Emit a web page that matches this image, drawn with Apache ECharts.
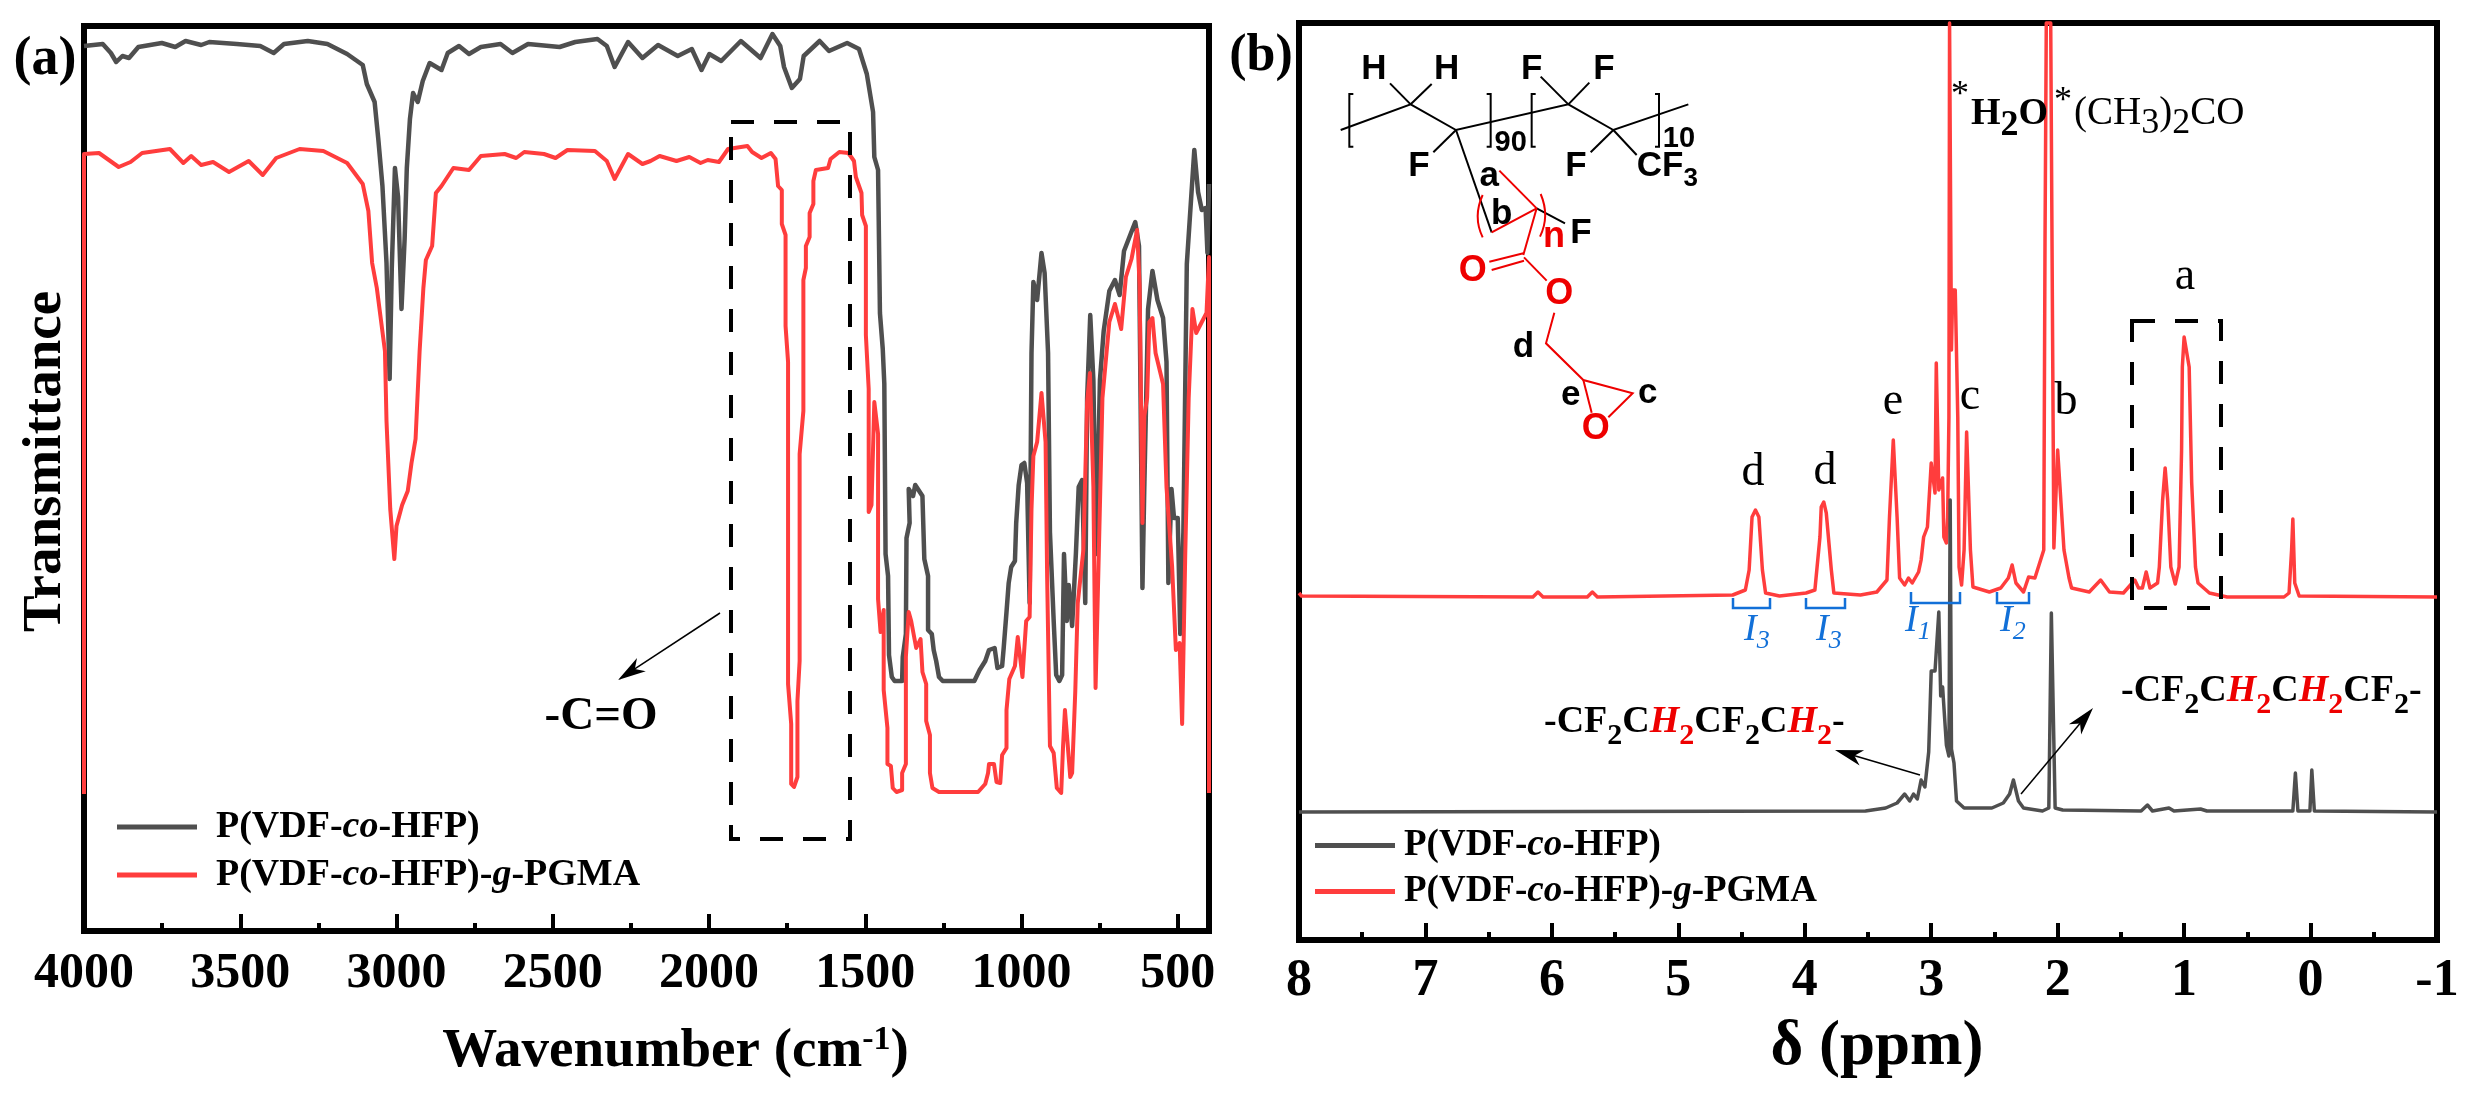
<!DOCTYPE html>
<html><head><meta charset="utf-8">
<style>html,body{margin:0;padding:0;background:#fff}#c{width:2470px;height:1095px}</style>
<script src="https://cdn.jsdelivr.net/npm/echarts@6/dist/echarts.min.js"></script>
</head><body><div id="c"></div>
<script>
const serif='"Liberation Serif"', sans='"Liberation Sans"';
const nameBase='P(VDF-co-HFP)', nameGraft='P(VDF-co-HFP)-g-PGMA';
const ftirTicks=[4000,3500,3000,2500,2000,1500,1000,500];
const ftirMinor=[3750,3250,2750,2250,1750,1250,750];
const nmrTicks=[8,7,6,5,4,3,2,1,0,-1];
const nmrMinor=[7.5,6.5,5.5,4.5,3.5,2.5,1.5,0.5,-0.5];

const ftirBase=[[4000,885],[3940,887],[3914,878],[3897,869],[3877,875],[3856,873],[3826,884],[3751,888],[3708,884],[3675,890],[3625,886],[3599,889],[3511,887],[3436,885],[3393,878],[3360,887],[3284,890],[3221,887],[3158,877],[3108,866],[3095,847],[3070,829],[3058,791],[3045,745],[3032,668],[3022,552],[3015,664],[3005,763],[2995,734],[2984,622],[2974,692],[2967,763],[2957,812],[2947,838],[2932,829],[2916,850],[2894,868],[2856,861],[2836,878],[2800,885],[2768,877],[2730,884],[2667,887],[2629,878],[2579,887],[2478,884],[2428,889],[2357,892],[2327,885],[2302,864],[2259,889],[2213,873],[2163,886],[2100,875],[2055,882],[2024,861],[1999,877],[1961,870],[1898,890],[1835,873],[1797,897],[1772,885],[1760,864],[1735,843],[1709,852],[1697,875],[1646,890],[1616,880],[1558,888],[1520,882],[1495,857],[1475,819],[1471,774],[1459,761],[1453,618],[1444,582],[1439,547],[1435,377],[1427,355],[1424,276],[1415,254],[1406,250],[1382,250],[1380,274],[1370,297],[1368,393],[1358,408],[1361,442],[1347,435],[1340,446],[1317,435],[1311,372],[1299,355],[1299,301],[1287,297],[1281,281],[1273,270],[1264,254],[1252,250],[1151,250],[1134,261],[1116,270],[1104,281],[1086,283],[1077,263],[1062,265],[1057,283],[1048,319],[1041,348],[1033,364],[1021,370],[1017,408],[1009,446],[1000,466],[991,468],[982,448],[974,328],[968,578],[962,649],[950,631],[936,678],[926,658],[915,578],[909,399],[897,310],[889,256],[879,250],[870,256],[864,377],[855,310],[849,346],[838,305],[826,377],[817,444],[806,451],[796,328],[790,533],[780,616],[770,551],[761,377],[749,551],[737,600],[719,640],[701,651],[686,636],[672,680],[636,709],[624,685],[619,533],[613,343],[607,444],[595,622],[581,660],[565,631],[547,613],[536,569],[530,348],[520,442],[512,413],[500,413],[492,297],[482,399],[471,667],[447,781],[435,739],[423,721],[411,723],[405,678],[400,747]];

const ftirGraft=[[4000,137],[4000,777],[3952,778],[3889,764],[3851,769],[3814,778],[3725,782],[3682,768],[3657,775],[3625,766],[3587,769],[3536,759],[3473,770],[3428,756],[3385,773],[3310,782],[3234,780],[3158,768],[3108,747],[3090,720],[3078,668],[3063,643],[3037,580],[3032,510],[3020,422],[3007,372],[3000,405],[2982,426],[2964,440],[2952,468],[2939,492],[2926,580],[2914,643],[2906,671],[2886,685],[2874,738],[2856,745],[2818,763],[2768,761],[2730,775],[2654,777],[2617,773],[2591,779],[2528,777],[2491,773],[2453,781],[2365,780],[2327,770],[2302,752],[2259,777],[2213,767],[2187,770],[2158,775],[2104,770],[2063,774],[2027,768],[2004,771],[1968,769],[1939,782],[1877,785],[1862,779],[1832,773],[1802,778],[1787,772],[1779,745],[1767,741],[1767,707],[1755,696],[1755,605],[1747,569],[1747,247],[1737,207],[1737,147],[1728,144],[1717,154],[1717,230],[1710,270],[1710,477],[1698,520],[1698,651],[1690,663],[1690,685],[1678,694],[1678,718],[1666,727],[1666,750],[1658,761],[1619,763],[1611,772],[1583,779],[1554,778],[1536,770],[1530,754],[1512,738],[1510,716],[1498,705],[1498,596],[1489,542],[1489,419],[1480,426],[1471,529],[1459,497],[1459,332],[1451,299],[1441,321],[1441,241],[1429,203],[1429,167],[1418,165],[1412,143],[1400,139],[1382,141],[1382,158],[1370,167],[1370,274],[1361,319],[1353,310],[1337,283],[1323,292],[1317,259],[1305,247],[1305,210],[1293,196],[1293,158],[1285,143],[1264,139],[1139,139],[1116,147],[1107,158],[1104,167],[1088,167],[1080,149],[1068,148],[1062,176],[1048,183],[1048,221],[1039,252],[1021,265],[1012,294],[997,254],[985,310],[974,314],[968,422],[962,475],[950,489],[936,538],[923,489],[918,355],[909,185],[897,178],[887,143],[873,138],[867,185],[861,221],[844,154],[838,158],[828,239],[820,328],[802,381],[790,529],[781,558],[770,444],[763,243],[752,386],[741,533],[719,609],[701,627],[681,602],[666,654],[648,672],[630,701],[622,645],[613,408],[607,515],[598,533],[591,609],[581,613],[571,578],[547,547],[536,444],[518,364],[506,281],[494,288],[486,207],[476,377],[465,533],[453,622],[441,598],[423,609],[408,618],[400,674],[400,138]];

const nmrBase=[[8,128],[3.52,129],[3.36,132],[3.27,137],[3.21,146],[3.17,139],[3.14,146],[3.11,141],[3.08,160],[3.05,153],[3.02,188],[3.0,269],[2.97,269],[2.94,328],[2.925,244],[2.91,253],[2.88,195],[2.86,184],[2.85,440],[2.84,191],[2.82,177],[2.80,139],[2.74,132],[2.52,132],[2.43,137],[2.38,146],[2.35,160],[2.31,139],[2.27,132],[2.12,129],[2.07,132],[2.05,327],[2.02,132],[1.96,130],[1.34,129],[1.29,135],[1.25,129],[1.12,132],[1.08,129],[0.87,131],[0.82,129],[0.14,129],[0.12,167],[0.10,129],[0.005,129],[-0.01,170],[-0.03,129],[-1,128]];

const nmrGraft=[[8,347],[7.98,344],[6.15,343],[6.11,348],[6.07,343],[5.72,343],[5.68,348],[5.64,343],[4.57,345],[4.47,350],[4.44,370],[4.417,423],[4.39,430],[4.363,423],[4.335,370],[4.31,347],[4.20,344],[3.99,347],[3.92,350],[3.88,403],[3.87,433],[3.85,438],[3.83,427],[3.79,370],[3.77,347],[3.56,345],[3.43,348],[3.35,360],[3.33,423],[3.30,500],[3.27,423],[3.25,362],[3.21,355],[3.18,362],[3.15,357],[3.10,368],[3.08,380],[3.06,403],[3.03,413],[3.00,477],[2.97,447],[2.96,577],[2.94,450],[2.91,462],[2.90,403],[2.88,397],[2.87,423],[2.86,523],[2.855,917],[2.84,590],[2.83,650],[2.81,650],[2.79,523],[2.78,373],[2.76,355],[2.74,390],[2.72,508],[2.69,390],[2.67,353],[2.54,348],[2.45,352],[2.39,362],[2.36,375],[2.33,357],[2.27,348],[2.23,363],[2.18,362],[2.11,390],[2.10,700],[2.09,917],[2.055,917],[2.04,600],[2.03,392],[2.00,490],[1.95,390],[1.91,362],[1.89,352],[1.75,348],[1.66,360],[1.59,348],[1.48,347],[1.39,360],[1.36,352],[1.33,352],[1.30,368],[1.27,352],[1.21,357],[1.196,373],[1.17,440],[1.15,472],[1.13,440],[1.105,373],[1.07,356],[1.04,373],[1.02,490],[1.014,573],[1.00,603],[0.96,573],[0.94,457],[0.91,373],[0.89,357],[0.80,347],[0.66,343],[0.21,343],[0.17,347],[0.15,390],[0.14,421],[0.125,357],[0.09,344],[-1,343]];

const G='#4f4f4f', R='#ff3d3d', B='#1270d8', K='#000', RC='#ee0000';
const g=[];
const mc=document.createElement('canvas').getContext('2d');
function txt(x,y,t,size,o={}){
  const font=`${o.i?'italic ':''}${o.b===false?'':'bold '}${size}px ${o.f||serif}`;
  g.push({type:'text',x,y,silent:true,z:50,style:{text:t,fill:o.c||K,font,textAlign:o.a||'center',textVerticalAlign:'middle',verticalAlign:'middle'}});
}
function chain(x,y,toks,size,o={}){
  toks.forEach(k=>{
    const sub=k.s, sz=sub?(o.ss||size*0.75):size;
    const font=`${k.i||o.i?'italic ':''}${o.b===false?'':'bold '}${sz}px ${o.f||serif}`;
    mc.font=font;
    txt(x,y+(sub?(o.dy||size*0.36):0),k.t,sz,{a:'left',i:k.i||o.i,c:k.c||o.c,b:o.b,f:o.f});
    x+=mc.measureText(k.t).width;
  });
}
function ln(pts,c,w,dash){
  g.push({type:'polyline',silent:true,z:40,shape:{points:pts},style:{stroke:c,lineWidth:w,fill:null,lineDash:dash||null}});
}
function arrow(x0,y0,x1,y1,w=1.5){
  const dx=x1-x0,dy=y1-y0,l=Math.hypot(dx,dy),ux=dx/l,uy=dy/l,h=28,hw=8;
  ln([[x0,y0],[x1-ux*h*0.7,y1-uy*h*0.7]],K,w);
  g.push({type:'polygon',silent:true,z:41,shape:{points:[[x1,y1],[x1-ux*h-uy*hw,y1-uy*h+ux*hw],[x1-ux*h*0.72,y1-uy*h*0.72],[x1-ux*h+uy*hw,y1-uy*h-ux*hw]]},style:{fill:K}});
}
function box(x,y,w,h){
  g.push({type:'rect',silent:true,z:40,shape:{x,y,width:w,height:h},style:{stroke:K,lineWidth:4,fill:null,lineDash:[23,20]}});
}
function bracket(x0,x1,y0,y1){ ln([[x0,y0],[x0,y1],[x1,y1],[x1,y0]],B,2.5); }

// panel tags and annotations
txt(45,60,'(a)',54); txt(1261,57,'(b)',52);
box(731,122,119,717); box(2132,321,89,287);
arrow(720,613,618,680); txt(601,717,'-C=O',47);
[['a',2185,277],['b',2066,402],['c',1970,397],['e',1893,402],['d',1753,473],['d',1825,472]].forEach(p=>txt(p[1],p[2],p[0],46,{b:false}));
txt(1960,96,'*',36,{b:false});
chain(1971,114,[{t:'H'},{t:'2',s:1},{t:'O'}],38,{ss:36,dy:12});
txt(2063,102,'*',36,{b:false});
chain(2074,114,[{t:'(CH'},{t:'3',s:1},{t:')'},{t:'2',s:1},{t:'CO'}],39,{b:false,ss:36,dy:10});
bracket(1733,1770,598,608); bracket(1806,1845,598,608); bracket(1911,1960,592,603); bracket(1997,2029,592,603);
[[1744,630,'3'],[1816,630,'3'],[1905,621,'1'],[2000,621,'2']].forEach(p=>chain(p[0],p[1],[{t:'I'},{t:p[2],s:1}],38,{i:true,b:false,c:B,ss:26,dy:11}));
const CH=[{t:'C'},{t:'H',i:1,c:RC},{t:'2',s:1,c:RC}], CF=[{t:'C'},{t:'F'},{t:'2',s:1}];
chain(1544,722,[{t:'-'},...CF,...CH,...CF,...CH,{t:'-'}],38,{ss:30,dy:14});
chain(2121,691,[{t:'-'},...CF,...CH,...CH,...CF,{t:'-'}],38,{ss:30,dy:14});
arrow(1920,775,1835,750); arrow(2021,794,2093,708);

// chemical structure
const S=(x,y)=>[1300+x/3,20+y/3];
const blk=[[[122,330],[332,253],[468,330],[805,253],[940,330],[1165,253]],[[332,253],[270,190]],[[332,253],[395,192]],[[805,253],[722,170]],[[805,253],[868,188]],[[468,330],[400,397]],[[940,330],[872,397]],[[940,330],[1010,405]],[[468,330],[575,637]],[[710,565],[795,610]],
 [[160,222],[148,222],[148,380],[160,380]],[[560,222],[572,222],[572,380],[560,380]],[[707,222],[695,222],[695,380],[707,380]],[[1065,222],[1077,222],[1077,380],[1065,380]]];
blk.forEach(l=>ln(l.map(p=>S(p[0],p[1])),K,2));
const red=[[[575,637],[710,565]],[[598,452],[710,565]],[[710,565],[670,705]],[[670,700],[568,725]],[[672,722],[575,750]],[[672,712],[740,782]],[[763,878],[738,970],[850,1080],[998,1120],[925,1192]],[[850,1080],[875,1178]]];
red.forEach(l=>ln(l.map(p=>S(p[0],p[1])),RC,2));
[[548,525,518,590,548,652],[722,522,750,588,720,650]].forEach(a=>{const p1=S(a[0],a[1]),c=S(a[2],a[3]),p2=S(a[4],a[5]);
 g.push({type:'bezierCurve',silent:true,z:40,shape:{x1:p1[0],y1:p1[1],cpx1:c[0],cpy1:c[1],x2:p2[0],y2:p2[1]},style:{stroke:RC,lineWidth:2,fill:null}});});
[['H',222,148],['H',440,148],['F',695,148],['F',912,148],['F',357,440],['F',828,440],['CF',1080,440],['a',568,468],['b',605,582],['F',843,640],['d',670,983],['e',812,1125],['c',1043,1120]].forEach(p=>{const q=S(p[1],p[2]);txt(q[0],q[1],p[0],35,{f:sans});});
[['n',762,652],['O',518,752],['O',778,822],['O',887,1228]].forEach(p=>{const q=S(p[1],p[2]);txt(q[0],q[1],p[0],36,{f:sans,c:RC});});
[['90',632,368],['10',1137,358],['3',1172,475]].forEach(p=>{const q=S(p[1],p[2]);txt(q[0],q[1],p[0],p[0]==='3'?26:29,{f:sans});});

const labelStyle={fontFamily:serif,fontWeight:'bold',color:K};
const fmtName=n=>n.replace('-co-','-{i|co}-').replace('-g-','-{i|g}-');
function mkLegend(left,top,gap,size,pad){
  return {left,top,orient:'vertical',padding:0,icon:'rect',itemWidth:80,itemHeight:5,itemGap:gap,selectedMode:false,
    data:[nameBase,nameGraft],formatter:fmtName,
    textStyle:{fontFamily:serif,fontWeight:'bold',fontSize:size,color:K,padding:[0,0,0,pad],
      rich:{i:{fontFamily:serif,fontWeight:'bold',fontStyle:'italic',fontSize:size,color:K}}}};
}
function mkX(grid,min,max,values,major,labelSize,margin,name,gap,pad,rich){
  return [{type:'value',gridIndex:grid,inverse:true,min,max,position:'bottom',
      axisLine:{show:false},splitLine:{show:false},
      axisTick:{show:true,inside:true,length:17,lineStyle:{color:K,width:4},customValues:values},
      axisLabel:{show:true,margin,fontSize:labelSize,hideOverlap:false,showMinLabel:true,showMaxLabel:true,...labelStyle,customValues:values,formatter:v=>String(v)},
      name,nameLocation:'middle',nameGap:gap,nameMoveOverlap:false,
      nameTextStyle:{...labelStyle,padding:[0,0,0,pad],rich}},
    {type:'value',gridIndex:grid,inverse:true,min,max,position:'bottom',
      axisLine:{show:false},splitLine:{show:false},axisLabel:{show:false},
      axisTick:{show:true,inside:true,length:8,lineStyle:{color:K,width:4},customValues:major}}];
}
const line=(name,data,x,y,color,w,z)=>({name,type:'line',data,xAxisIndex:x,yAxisIndex:y,showSymbol:false,symbol:'none',smooth:false,clip:false,sampling:null,animation:false,silent:true,z,
  color,itemStyle:{color},lineStyle:{color,width:w,join:'round',cap:'butt'}});

const chart=echarts.init(document.getElementById('c'),null,{renderer:'canvas'});
chart.setOption({
  animation:false,backgroundColor:'#fff',
  grid:[{left:84,top:26,width:1125,height:905,show:true,borderColor:K,borderWidth:6,backgroundColor:'transparent',outerBoundsMode:'none'},
        {left:1299,top:23,width:1138,height:917,show:true,borderColor:K,borderWidth:6,backgroundColor:'transparent',outerBoundsMode:'none'}],
  legend:[mkLegend(117,808,10,38,14),mkLegend(1315,827,9,37,4)],
  xAxis:[...mkX(0,400,4000,ftirTicks,ftirMinor,50,18,'{t|Wavenumber (cm}{s|-1}{t|)}',92,58,
            {t:{fontFamily:serif,fontWeight:'bold',fontSize:55,color:K},s:{fontFamily:serif,fontWeight:'bold',fontSize:34,color:K,padding:[0,0,24,0]}}),
         ...mkX(1,-1,8,nmrTicks,nmrMinor,52,16,'δ (ppm)',76,18,
            {})],
  yAxis:[{type:'value',gridIndex:0,min:0,max:905,axisLine:{show:false},axisTick:{show:false},axisLabel:{show:false},splitLine:{show:false},
          name:'Transmittance',nameLocation:'middle',nameRotate:90,nameGap:11,nameMoveOverlap:false,
          nameTextStyle:{...labelStyle,fontSize:55,padding:[0,0,0,34]}},
         {type:'value',gridIndex:1,min:0,max:917,show:false}],
  series:[line(nameBase,ftirBase,0,0,G,4.5,2),line(nameGraft,ftirGraft,0,0,R,4,3),
          line(nameGraft,nmrGraft,2,1,R,3.5,2),line(nameBase,nmrBase,2,1,G,3.5,3)],
  graphic:{elements:g}
});
chart.setOption({xAxis:[{},{},{nameTextStyle:{fontSize:63}},{}]});
</script></body></html>
